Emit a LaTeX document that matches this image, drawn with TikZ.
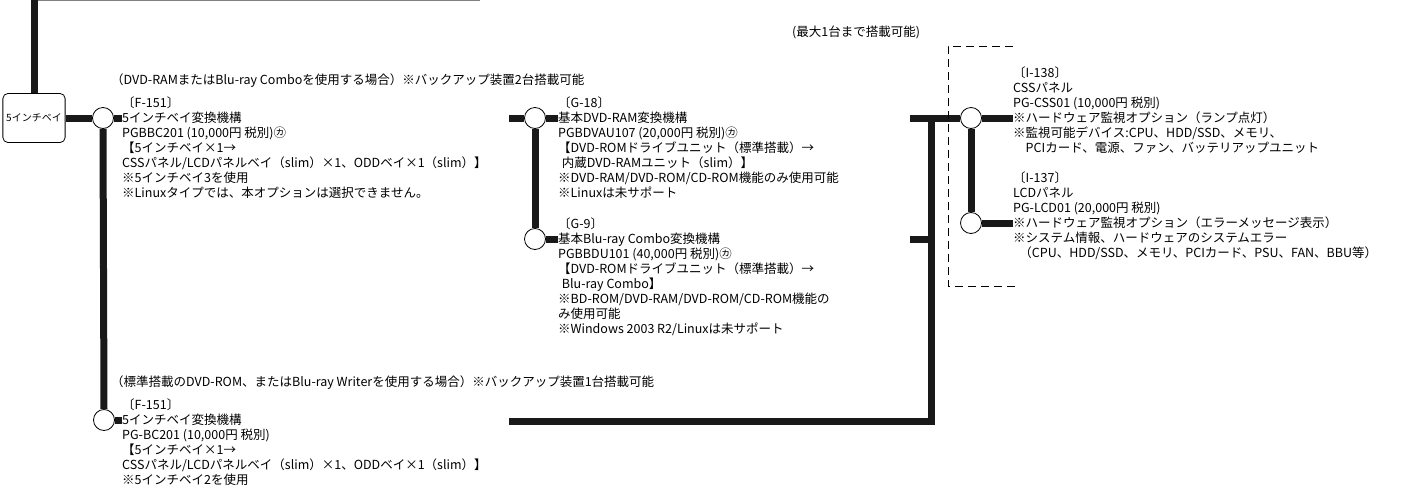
\documentclass[tikz,border=0pt]{standalone}
\usepackage{fontspec}
\setmainfont{Noto Sans CJK JP}
\begin{document}
\begin{tikzpicture}[x=1pt, y=-1pt,
    bar/.style={line width=7pt, color=black!90},
    joint/.style={draw, circle, fill=white, minimum size=21pt, inner sep=0pt, line width=0.8pt},
    txt/.style={anchor=north west, inner sep=0pt, align=left, font=\fontsize{12.5}{15}\selectfont}]
    \useasboundingbox (0,0) rectangle (1424,488);

    \node[draw, rounded corners=5pt, minimum width=59pt, minimum height=49pt, line width=0.8pt,
        font=\fontsize{10}{11}\selectfont] (bay) at (34,118) {5インチベイ};
    \node[joint] (j1) at (103,118) {};
    \node[joint] (j2) at (104,420) {};
    \node[joint] (g18c) at (535,118) {};
    \node[joint] (g9c) at (535,239) {};
    \node[joint] (cssc) at (971,118) {};
    \node[joint] (lcdc) at (971,223) {};

    \coordinate (top) at (34,0);
    \coordinate (topend) at (480,0);
    \coordinate (inA) at (509,118);
    \coordinate (inB) at (509,421);
    \coordinate (outA) at (910,118);
    \coordinate (outB) at (910,239);
    \coordinate (hub) at (931,118);

    \node[txt] (lblMax) at (792,26) {(最大1台まで搭載可能)};
    \node[txt] (lblA) at (111,74) {（DVD-RAMまたはBlu-ray Comboを使用する場合）※バックアップ装置2台搭載可能};
    \node[txt] (lblB) at (111,376) {（標準搭載のDVD-ROM、またはBlu-ray Writerを使用する場合）※バックアップ装置1台搭載可能};
    \node[txt] (f151a) at (122,97) {〔F-151〕\\5インチベイ変換機構\\PGBBC201 (10,000円 税別)㋕\\【5インチベイ×1→\\CSSパネル/LCDパネルベイ（slim）×1、ODDベイ×1（slim）】\\※5インチベイ3を使用\\※Linuxタイプでは、本オプションは選択できません。};
    \node[txt] (f151b) at (122,399) {〔F-151〕\\5インチベイ変換機構\\PG-BC201 (10,000円 税別)\\【5インチベイ×1→\\CSSパネル/LCDパネルベイ（slim）×1、ODDベイ×1（slim）】\\※5インチベイ2を使用};
    \node[txt] (g18t) at (558,97) {〔G-18〕\\基本DVD-RAM変換機構\\PGBDVAU107 (20,000円 税別)㋕\\【DVD-ROMドライブユニット（標準搭載）→\\\hspace*{0.3em}内蔵DVD-RAMユニット（slim）】\\※DVD-RAM/DVD-ROM/CD-ROM機能のみ使用可能\\※Linuxは未サポート};
    \node[txt] (g9t) at (558,218) {〔G-9〕\\基本Blu-ray Combo変換機構\\PGBBDU101 (40,000円 税別)㋕\\【DVD-ROMドライブユニット（標準搭載）→\\\hspace*{0.3em}Blu-ray Combo】\\※BD-ROM/DVD-RAM/DVD-ROM/CD-ROM機能の\\み使用可能\\※Windows 2003 R2/Linuxは未サポート};
    \node[txt] (i138t) at (1013,67) {〔I-138〕\\CSSパネル\\PG-CSS01 (10,000円 税別)\\※ハードウェア監視オプション（ランプ点灯）\\※監視可能デバイス:CPU、HDD/SSD、メモリ、\\\hspace*{1em}PCIカード、電源、ファン、バッテリアップユニット};
    \node[txt] (i137t) at (1013,172) {〔I-137〕\\LCDパネル\\PG-LCD01 (20,000円 税別)\\※ハードウェア監視オプション（エラーメッセージ表示）\\※システム情報、ハードウェアのシステムエラー\\\hspace*{0.5em}（CPU、HDD/SSD、メモリ、PCIカード、PSU、FAN、BBU等）};

    \draw[gray, line width=1.5pt] (top) -- (topend);
    \draw[bar] (top) -- (bay.north);
    \draw[bar] (bay.east) -- (j1.west);
    \draw[bar] (j1.east) -- (j1.east -| f151a.west);
    \draw[bar] (j1.south) -- (j2.north);
    \draw[bar] (j2.east) -- (j2.east -| f151b.west);
    \draw[bar] (inA) -- (g18c.west);
    \draw[bar] (g18c.east) -- (g18c.east -| g18t.west);
    \draw[bar] (g18c.south) -- (g9c.north);
    \draw[bar] (g9c.east) -- (g9c.east -| g9t.west);
    \draw[bar] (inB) -| (hub);
    \draw[bar] (outA) -- (cssc.west);
    \draw[bar] (outB) -- (outB -| hub);
    \draw[bar] (cssc.east) -- (cssc.east -| i138t.west);
    \draw[bar] (cssc.south) -- (lcdc.north);
    \draw[bar] (lcdc.east) -- (lcdc.east -| i137t.west);
    \draw[dashed, dash pattern=on 8pt off 5pt, line width=1pt] (1013,46) -| (948,286) -- (1017,286);
\end{tikzpicture}
\end{document}
